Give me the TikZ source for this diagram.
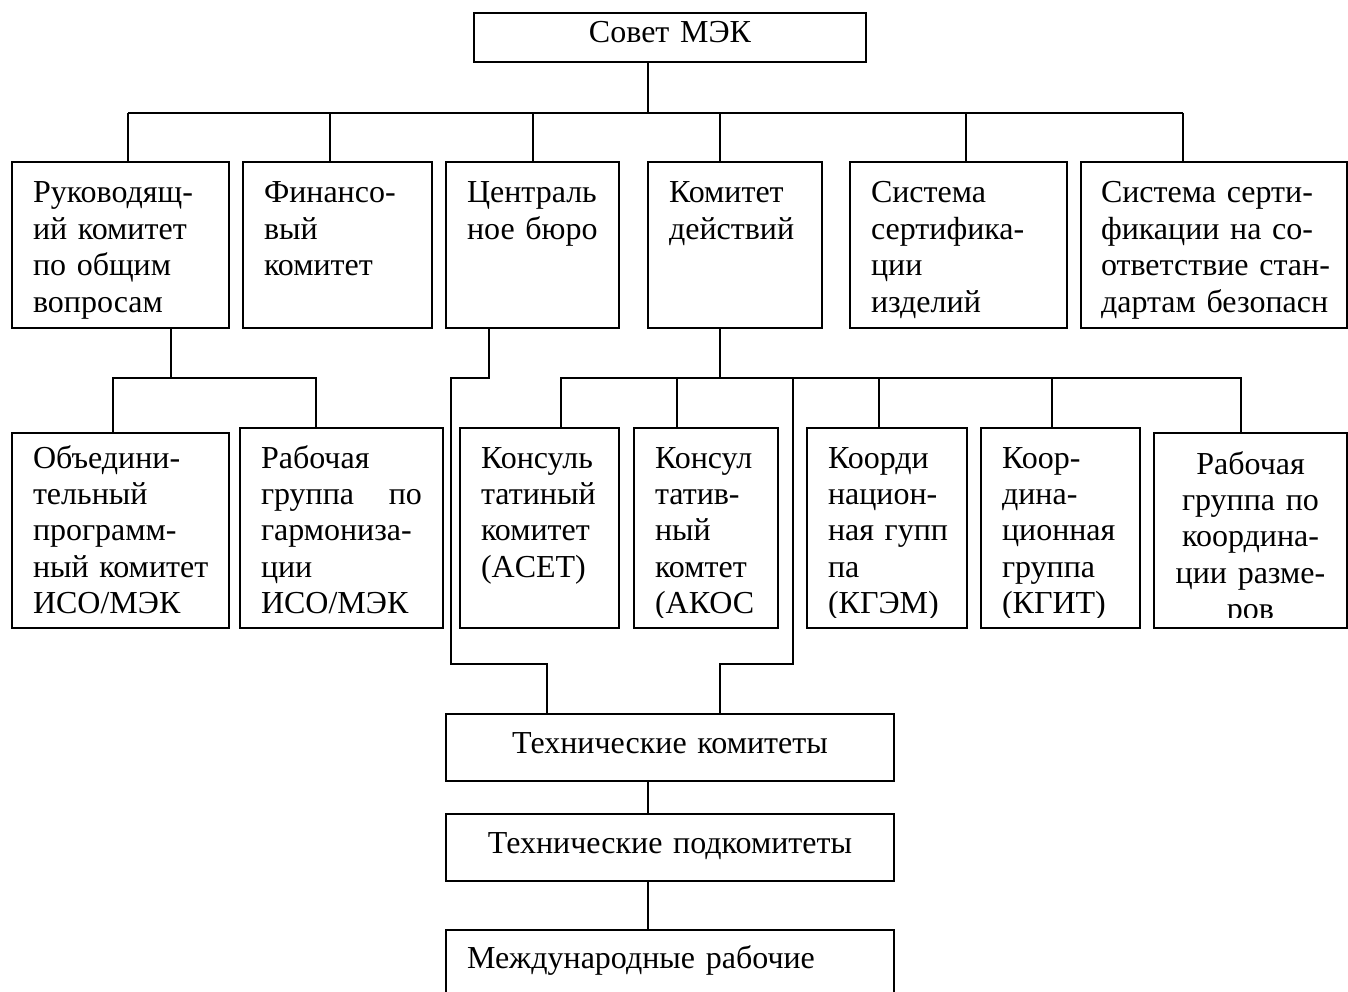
\documentclass[tikz,border=0pt]{standalone}
\usepackage{fontspec}
\setmainfont{Liberation Serif}
\exhyphenpenalty=10000

\begin{document}
\begin{tikzpicture}
[
x = 1pt, y = -1pt,
line width = 1.7pt,
font = \fontsize{32}{36.4}\selectfont,
box/.style = {draw, anchor = north west, outer sep = 0pt, inner xsep = 21pt, inner ysep = 0pt, align = left},
txt/.style = {box, draw = none},
]

\useasboundingbox (0,0) rectangle (1348,992);
\clip (0,0) rectangle (1348,992);

% Совет
\node (sovet) at (474,13) [box, align = center, text width = 350pt, text height = 30pt, text depth = 19pt] {Совет МЭК};

% первый уровень
\node (ruk) at (12,162) [box, text width = 175pt, text height = 41pt, text depth = 125pt] {Руководящ-\\ий~комитет\\по~общим\\вопросам};
\node (fin) at (243,162) [box, text width = 147pt, text height = 41pt, text depth = 125pt] {Финансо-\\вый\\комитет};
\node (cb) at (446,162) [box, text width = 131pt, text height = 41pt, text depth = 125pt] {Централь\\ное~бюро};
\node (kd) at (648,162) [box, text width = 132pt, text height = 41pt, text depth = 125pt] {Комитет\\действий};
\node (ssi) at (850,162) [box, text width = 175pt, text height = 41pt, text depth = 125pt] {Система\\сертифика-\\ции\\изделий};
\node (sss) at (1081,162) [box, inner xsep = 20pt, text width = 226pt, text height = 41pt, text depth = 125pt] {Система~серти-\\фикации~на~со-\\ответствие~стан-\\дартам~безопасн};

% второй уровень, текст срезан снизу
\begin{scope}
\clip (0,0) rectangle (1348,617);
\node (obj) at (12,433) [txt, text width = 175pt, text height = 35pt, text depth = 160pt] {Объедини-\\тельный\\программ-\\ный~комитет\\ИСО/МЭК};
\node (garm) at (240,428) [txt, text width = 161pt, text height = 40pt, text depth = 160pt] {Рабочая\\группа\hfill по\\гармониза-\\ции\\ИСО/МЭК};
\node (acet) at (460,428) [txt, text width = 117pt, text height = 40pt, text depth = 160pt] {Консуль\\татиный\\комитет\\(ACET)};
\node (akos) at (634,428) [txt, text width = 102pt, text height = 40pt, text depth = 160pt] {Консул\\татив-\\ный\\комтет\\(АКОС};
\node (kgem) at (807,428) [txt, text width = 118pt, text height = 40pt, text depth = 160pt] {Коорди\\национ-\\ная~гупп\\па\\(КГЭМ)};
\node (kgit) at (981,428) [txt, text width = 117pt, text height = 40pt, text depth = 160pt] {Коор-\\дина-\\ционная\\группа\\(КГИТ)};
\node (razm) at (1154,433) [txt, align = center, text width = 151pt, text height = 41pt, text depth = 154pt] {Рабочая\\группа~по\\координа-\\ции~разме-\\ров};
\end{scope}
\foreach \n in {obj,garm,acet,akos,kgem,kgit,razm}
  \draw (\n.north west) rectangle (\n.south east);

% технические комитеты
\node (tk) at (446,714) [box, align = center, text width = 406pt, text height = 39pt, text depth = 28pt] {Технические комитеты};
\node (pk) at (446,814) [box, align = center, text width = 406pt, text height = 39pt, text depth = 28pt] {Технические подкомитеты};
\node (mr) at (446,930) [box, text width = 406pt, text height = 38pt, text depth = 42pt] {Международные рабочие};

% связи от Совета
\coordinate (busL) at (128,113);
\coordinate (busR) at (1183,113);
\draw (sovet.south -| 648,0) -- (busL -| 648,0);
\draw (busL) -- (busR);
\foreach \n/\x in {ruk/128, fin/330, cb/533, kd/720, ssi/966, sss/1183}
  \draw (busL -| \x,0) -- (\n.north -| \x,0);

% руководящий комитет
\coordinate (lbus) at (171,378);
\draw (ruk.south -| lbus) -- (lbus);
\draw (obj.north -| 113,0) |- (lbus -| 316,0) -- (garm.north -| 316,0);

% центральное бюро
\coordinate (cbL) at (451,664);
\draw (cb.south -| 489,0) -- (lbus -| 489,0) -| (cbL) -| (tk.north -| 547,0);

% комитет действий
\coordinate (rbus) at (720,378);
\coordinate (kdR) at (793,664);
\draw (kd.south -| rbus) -- (rbus);
\draw (acet.north -| 561,0) |- (rbus -| 1241,0) -- (razm.north -| 1241,0);
\foreach \n/\x in {akos/677, kgem/879, kgit/1052}
  \draw (rbus -| \x,0) -- (\n.north -| \x,0);
\draw (rbus -| kdR) -- (kdR) -| (tk.north -| rbus);

% вниз
\draw (tk.south -| 648,0) -- (pk.north -| 648,0);
\draw (pk.south -| 648,0) -- (mr.north -| 648,0);
\end{tikzpicture}
\end{document}
